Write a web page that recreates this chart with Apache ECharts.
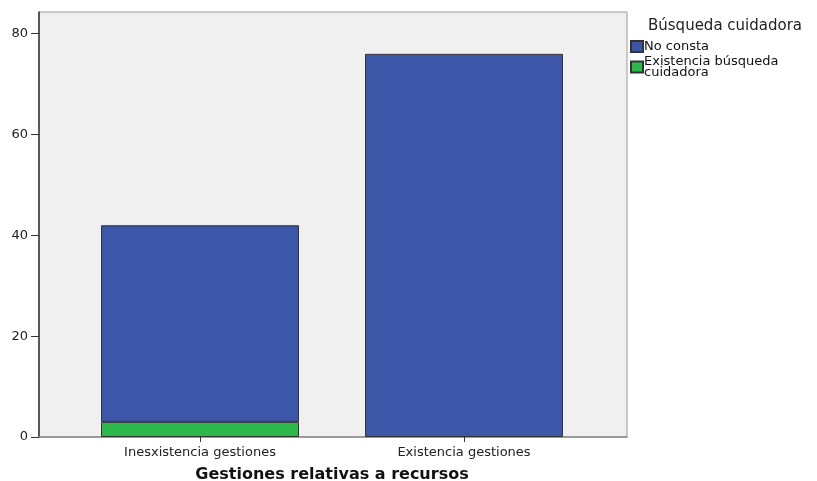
<!DOCTYPE html>
<html><head><meta charset="utf-8">
<script src="https://cdn.jsdelivr.net/npm/echarts@6/dist/echarts.min.js"></script>
<style>html,body{margin:0;padding:0;background:#fff}#c{width:817px;height:481px}</style>
</head><body><div id="c"></div>
<script>
const categories = ['Inesxistencia gestiones', 'Existencia gestiones'];
const noConsta = [39, 76];
const existenciaBusqueda = [3, 0];
const yTicks = [0, 20, 40, 60, 80];
const legendTitle = 'Búsqueda cuidadora';
const seriesNames = ['No consta', 'Existencia búsqueda\ncuidadora'];
const xTitle = 'Gestiones relativas a recursos';

const FONT = 'DejaVu Sans';
const YMAX = 84.3;
const chart = echarts.init(document.getElementById('c'), null, {renderer: 'canvas'});
chart.setOption({
  animation: false,
  textStyle: {fontFamily: FONT},
  grid: [
    {left: 39, top: 12, width: 588, height: 425, show: true, backgroundColor: '#f0f0f0', borderColor: '#9a9a9a', borderWidth: 1, outerBoundsMode: 'none', containLabel: false},
    {left: 68, top: 12, width: 528, height: 425, outerBoundsMode: 'none', containLabel: false}
  ],
  xAxis: [
    {gridIndex: 0, type: 'value', min: 0, max: 1, axisLine: {show: true, lineStyle: {color: '#8a8a8a', width: 1.5}}, axisTick: {show: false}, axisLabel: {show: false}, splitLine: {show: false}},
    {gridIndex: 1, type: 'category', data: categories, axisLine: {show: false},
     axisTick: {show: true, alignWithLabel: true, length: 5, lineStyle: {color: '#333'}},
     axisLabel: {fontSize: 13, color: '#222', margin: 9, fontFamily: FONT},
     name: xTitle, nameLocation: 'middle', nameGap: 30,
     nameTextStyle: {fontSize: 16, fontWeight: 'bold', color: '#111', fontFamily: FONT}}
  ],
  yAxis: [
    {gridIndex: 0, type: 'value', min: 0, max: YMAX,
     axisLine: {show: true, lineStyle: {color: '#333', width: 1.5}},
     axisTick: {show: true, length: 8, customValues: yTicks, lineStyle: {color: '#333'}},
     axisLabel: {customValues: yTicks, fontSize: 13, color: '#222', margin: 11, fontFamily: FONT},
     splitLine: {show: false}},
    {gridIndex: 1, type: 'value', min: 0, max: YMAX, show: false, splitLine: {show: false}}
  ],
  legend: {
    orient: 'vertical', left: 625, top: 35, itemWidth: 12, itemHeight: 11, itemGap: 2,
    icon: 'rect', data: [seriesNames[0], seriesNames[1]],
    textStyle: {fontSize: 13, color: '#111', lineHeight: 11, padding: [0, 0, 0, -4], fontFamily: FONT}
  },
  graphic: [{type: 'text', left: 648, top: 19, style: {text: legendTitle, fontSize: 15, fill: '#222', fontFamily: FONT}}],
  series: [
    {name: seriesNames[1], type: 'bar', xAxisIndex: 1, yAxisIndex: 1, stack: 'a', barWidth: 198,
     data: existenciaBusqueda.map(v => v === 0 ? '-' : v),
     itemStyle: {color: '#2db84b', borderColor: '#333', borderWidth: 1}},
    {name: seriesNames[0], type: 'bar', xAxisIndex: 1, yAxisIndex: 1, stack: 'a', barWidth: 198,
     data: noConsta,
     itemStyle: {color: '#3c57a8', borderColor: '#333', borderWidth: 1}}
  ]
});
</script></body></html>
